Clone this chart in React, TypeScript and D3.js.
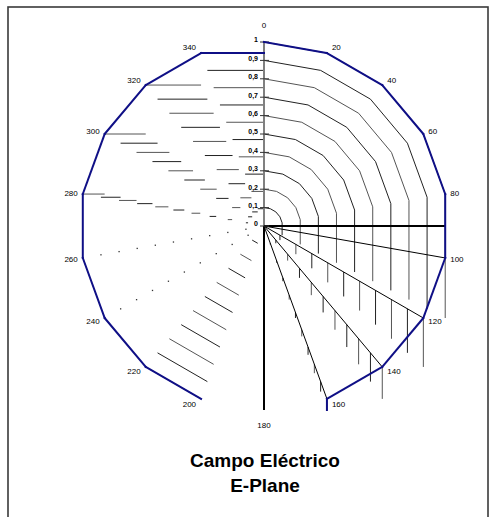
import React from "react";
import * as d3 from "d3";

// ---- data ----
const angles = [0, 20, 40, 60, 80, 100, 120, 140, 160, 180, 200, 220, 240, 260, 280, 300, 320, 340];
const values = [1, 1, 1, 1, 1, 1, 1, 1, 1, 1, 1, 1, 1, 1, 1, 1, 1, 1];
const ringTicks = [0, 0.1, 0.2, 0.3, 0.4, 0.5, 0.6, 0.7, 0.8, 0.9, 1];
const ringLabels = ["0", "0,1", "0,2", "0,3", "0,4", "0,5", "0,6", "0,7", "0,8", "0,9", "1"];
const titleLines = ["Campo Eléctrico", "E-Plane"];

// how the original (glitched) renderer drew each segment k -> k+1
const gridModes = ["true", "true", "true", "true", "vert", "vert", "vert", "vert", "vert", "none", "true", "none", "dot", "dot", "horiz", "horiz", "horiz", "horiz"];
const seriesModes = ["true", "true", "true", "true", "true", "true", "true", "true", "vert", "none", "true", "true", "true", "true", "true", "true", "true", "horiz"];
const axisModes = ["true", "none", "none", "none", "horiz", "true", "true", "true", "true", "true", "none", "none", "none", "none", "none", "none", "none", "none"];

const W = 496, H = 517;
const cx = 264, cy = 226, R = 184;

const rScale = d3.scaleLinear().domain([0, 1]).range([0, R]);
const aScale = d3.scaleLinear().domain([0, 360]).range([0, 2 * Math.PI]);

type P = [number, number];
const pt = (ang: number, v: number): P => {
  const a = aScale(ang), r = rScale(v);
  return [cx + r * Math.sin(a), cy - r * Math.cos(a)];
};
const line = d3.line<P>();

function segPath(mode: string, A: P, B: P): string | null {
  if (mode === "true") return line([A, B]);
  if (mode === "vert") return line([A, [A[0], B[1]]]);
  if (mode === "horiz") return line([A, [B[0], A[1]]]);
  return null;
}

export default function App() {
  const gridRings = ringTicks.filter((t) => t > 0);
  const elems: React.ReactNode[] = [];

  // grid rings
  gridRings.forEach((t, ri) => {
    angles.forEach((ang, k) => {
      const A = pt(ang, t);
      const B = pt(angles[(k + 1) % angles.length], t);
      const mode = gridModes[k];
      if (mode === "dot") {
        elems.push(<rect key={`gd${ri}-${k}`} x={A[0] - 0.6} y={A[1] - 0.6} width={1.3} height={1.3} fill="#333" />);
        return;
      }
      const d = segPath(mode, A, B);
      if (d) elems.push(<path key={`g${ri}-${k}`} d={d} fill="none" stroke={ri % 2 === 0 ? "#222" : "#555"} strokeWidth={1} />);
    });
  });

  // radial axes
  angles.forEach((ang, k) => {
    const A: P = [cx, cy];
    const B = pt(ang, 1);
    const d = segPath(axisModes[k], A, B);
    if (!d) return;
    let stroke = "#000", sw = 1;
    if (ang === 0) { stroke = "#808080"; sw = 2; }
    else if (ang === 180 || ang === 80) { stroke = "#000"; sw = 2; }
    elems.push(<path key={`ax${k}`} d={d} fill="none" stroke={stroke} strokeWidth={sw} />);
  });

  // tick marks on the 0 axis
  ringTicks.forEach((t, i) => {
    const y = pt(0, t)[1];
    elems.push(<line key={`tk${i}`} x1={cx - 4} x2={cx + 5} y1={y} y2={y} stroke="#333" strokeWidth={1} />);
  });

  // series
  values.forEach((v, k) => {
    const A = pt(angles[k], v);
    const nk = (k + 1) % values.length;
    const B = pt(angles[nk], values[nk]);
    const d = segPath(seriesModes[k], A, B);
    if (d) elems.push(<path key={`s${k}`} d={d} fill="none" stroke="#0f0f86" strokeWidth={2} strokeLinecap="square" />);
  });

  // angle labels
  const angleLabels = angles.map((ang, k) => {
    const [vx, vy] = pt(ang, values[k]);
    const a = aScale(ang);
    const s = Math.sin(a), c = Math.cos(a);
    let x = vx, y = vy, anchor = "middle";
    if (ang === 0) y = vy - 17;
    else if (ang === 180) y = vy + 15;
    else {
      anchor = s > 0 ? "start" : "end";
      x = vx + (s > 0 ? 5 : -5);
      y = vy - 6 * c;
    }
    return (
      <text key={`al${k}`} x={x} y={y} dy="0.35em" textAnchor={anchor} fontSize={8} fontFamily="Liberation Sans, Arial, sans-serif" fill="#000">
        {ang}
      </text>
    );
  });

  // ring labels
  const rLabels = ringTicks.map((t, i) => {
    const y = pt(0, t)[1];
    return (
      <text key={`rl${i}`} x={cx - 6} y={y - 2} dy="0.35em" textAnchor="end" fontSize={7} fontWeight="bold" fontFamily="Liberation Sans, Arial, sans-serif" fill="#000">
        {ringLabels[i]}
      </text>
    );
  });

  return (
    <svg width={W} height={H} style={{ position: "absolute", left: 0, top: 0, background: "#fff" }}>
      <rect x={8} y={7} width={480} height={530} fill="#fff" stroke="#3a3a3a" strokeWidth={1.6} />
      {elems}
      {angleLabels}
      {rLabels}
      {titleLines.map((t, i) => (
        <text key={`t${i}`} x={265} y={467 + i * 25} textAnchor="middle" fontSize={19} fontWeight="bold" fontFamily="Liberation Sans, Arial, sans-serif" fill="#000">
          {t}
        </text>
      ))}
    </svg>
  );
}
